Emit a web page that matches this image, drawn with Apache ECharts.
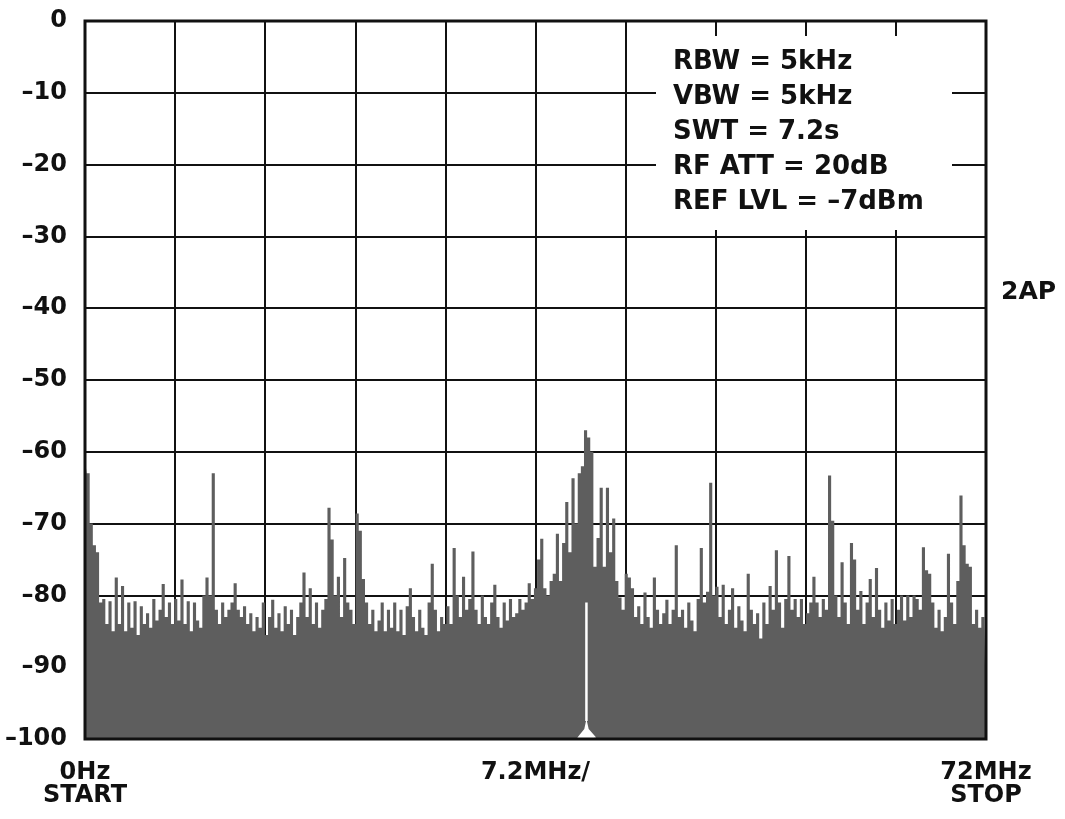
<!DOCTYPE html>
<html>
<head>
<meta charset="utf-8">
<script src="https://cdn.jsdelivr.net/npm/echarts@6/dist/echarts.min.js"></script>
<style>
html,body{margin:0;padding:0;background:#fff;}
#chart{width:1065px;height:819px;}
</style>
</head>
<body>
<div id="chart"></div>
<script>
// ---- data ----
const freqStepMHz = 0.25;           // sample spacing of the trace (0 .. 72 MHz)
const levelsDb = [
  -61,-63,-70,-73,-74,-81,-80.5,-84,-80.8,-85,-77.5,-84,-78.7,-85,-81,-84.5,-80.8,-85.5,-81.5,-84,-82.5,-84.5,-80.5,-83.5,
  -82,-78.4,-83,-81,-84,-80.5,-83.5,-77.8,-84,-80.8,-85,-81,-83.5,-84.5,-80,-77.5,-80,-63,-82,-84,-81,-83,-82,-81,
  -78.3,-82,-83,-81.5,-84,-82.5,-85,-83,-84.5,-81,-85.5,-83,-80.6,-84.5,-82.5,-85,-81.5,-84,-82,-85.5,-83,-81,-76.8,-83,
  -79,-84,-81,-84.5,-82,-80.5,-67.8,-72.2,-80,-77.4,-83,-74.8,-81,-82,-84,-68.6,-71,-77.7,-81,-84,-82,-85,-83.5,-81,
  -85,-82,-84.5,-81,-85,-82,-85.5,-81.5,-79,-83,-85,-82,-84.5,-85.5,-81,-75.6,-82,-85,-83,-84,-81.5,-84,-73.4,-80,
  -83,-77.4,-82,-80.5,-73.9,-82,-84,-80,-83,-84,-81,-78.5,-83,-84.5,-81,-83.5,-80.5,-83,-82.5,-80.5,-82,-81,-78.3,-80.5,
  -79,-75,-72.1,-79,-80,-78,-77,-71.4,-78,-72.7,-67,-74,-63.7,-70,-63,-62,-57,-58,-60,-76,-72,-65,-76,-65,
  -74,-69.3,-78,-80.3,-82,-77,-77.5,-79,-83,-81.5,-84,-79.6,-83,-84.5,-77.5,-82,-84,-82.5,-80.6,-84,-82,-73,-83,-82,
  -84.5,-81,-83.5,-85,-80.5,-73.4,-81,-79.5,-64.3,-80,-78.8,-83,-78.5,-84,-82,-79,-84.5,-81.5,-83.5,-85,-77,-82,-84,-82.5,
  -86,-81,-84,-78.7,-82,-73.7,-81,-84.5,-80.5,-74.5,-82,-80.5,-83,-80.5,-84,-82.5,-81,-77.4,-81,-83,-80.5,-82,-63.3,-69.6,
  -80,-83,-75.4,-81,-84,-72.7,-75,-82,-79.4,-84,-81,-77.7,-83,-76.2,-82,-84.5,-81,-83.5,-80.5,-84,-82,-80,-83.5,-80,
  -83,-80,-80.5,-82,-73.3,-76.5,-77,-81,-84.5,-82,-85,-83,-74.2,-81,-84,-78,-66.1,-73,-75.6,-76,-84,-82,-84.5,-83,
  -84
];
// white notch in the carrier
const notchFreqs  = [40.07, 40.07];
const notchLevels = [-81, -97.5];
const footFreqs   = [39.35, 39.9, 40.07, 40.25, 40.85];
const footLevels  = [-99.8, -98.6, -97.2, -98.6, -99.8];

// axes / labels
const yMin = -100, yMax = 0, yStep = 10;
const xMin = 0, xMax = 72, xStep = 7.2;
const xLabelValues = [0, 36, 72];
const xLabelTexts  = ['0Hz\nSTART', '7.2MHz/', '72MHz\nSTOP'];
const infoLines = ['RBW = 5kHz', 'VBW = 5kHz', 'SWT = 7.2s', 'RF ATT = 20dB', 'REF LVL = \u20137dBm'];
const sideLabel = '2AP';

// ---- chart ----
const FONT = 'DejaVu Sans';
const INK = '#111';
const G = {left: 85, top: 21, right: 79, bottom: 80};
const W = 1065, H = 819;
const gw = W - G.left - G.right, gh = H - G.top - G.bottom;

const chart = echarts.init(document.getElementById('chart'), null, {renderer: 'canvas'});

const spectrum = levelsDb.map((v, i) => [i * freqStepMHz, v]);
const notch = notchFreqs.map((f, i) => [f, notchLevels[i]]);
const foot = footFreqs.map((f, i) => [f, footLevels[i]]);

const graphics = [
  {type: 'rect', z: 50, silent: true,
   shape: {x: 656, y: 36, width: 296, height: 194},
   style: {fill: '#fff'}},
  {type: 'rect', z: 100, silent: true,
   shape: {x: G.left, y: G.top, width: gw, height: gh},
   style: {fill: null, stroke: INK, lineWidth: 3}},
  {type: 'text', z: 101, silent: true, x: 1001, y: 292,
   style: {text: sideLabel, font: 'bold 25px ' + FONT, fill: INK, verticalAlign: 'middle', align: 'left'}}
];
infoLines.forEach((t, k) => {
  graphics.push({type: 'text', z: 101, silent: true, x: 673, y: 62 + k * 35,
    style: {text: t, font: 'bold 26px ' + FONT, fill: INK, verticalAlign: 'middle', align: 'left'}});
});

chart.setOption({
  animation: false,
  backgroundColor: '#fff',
  grid: {left: G.left, top: G.top, right: G.right, bottom: G.bottom, containLabel: false},
  xAxis: {
    type: 'value', min: xMin, max: xMax, interval: xStep,
    axisLine: {show: false}, axisTick: {show: false},
    splitLine: {show: true, lineStyle: {color: INK, width: 2}},
    axisLabel: {
      show: true, margin: 22, color: INK, fontFamily: FONT, fontWeight: 'bold', fontSize: 24,
      lineHeight: 23, align: 'center', showMinLabel: true, showMaxLabel: true,
      formatter: function (v) {
        for (let k = 0; k < xLabelValues.length; k++) {
          if (Math.abs(v - xLabelValues[k]) < 1e-6) return xLabelTexts[k];
        }
        return '';
      }
    }
  },
  yAxis: {
    type: 'value', min: yMin, max: yMax, interval: yStep,
    axisLine: {show: false}, axisTick: {show: false},
    splitLine: {show: true, lineStyle: {color: INK, width: 2}},
    axisLabel: {
      margin: 18, color: INK, fontFamily: FONT, fontWeight: 'bold', fontSize: 24,
      formatter: function (v) { return v === 0 ? '0' : '\u2013' + Math.abs(v); }
    }
  },
  series: [
    {
      type: 'line', data: spectrum, step: 'middle', symbol: 'none', silent: true,
      lineStyle: {width: 0, color: '#5e5e5e'},
      areaStyle: {color: '#5e5e5e', opacity: 1, origin: 'start'},
      z: 2
    },
    {
      type: 'line', data: foot, symbol: 'none', silent: true,
      lineStyle: {width: 0, color: '#fff'},
      areaStyle: {color: '#fff', opacity: 1, origin: 'start'},
      z: 3
    },
    {
      type: 'line', data: notch, symbol: 'none', silent: true,
      lineStyle: {width: 2.5, color: '#fff'},
      z: 4
    }
  ],
  graphic: graphics
});
</script>
</body>
</html>
